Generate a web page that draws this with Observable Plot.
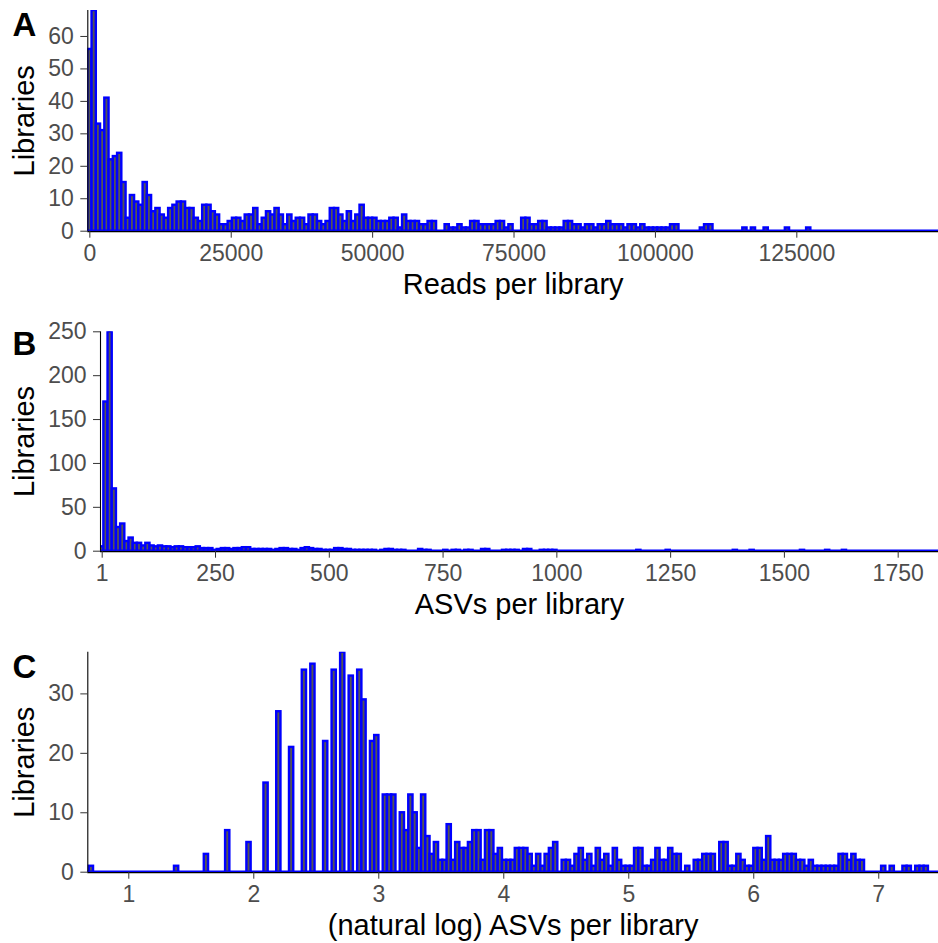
<!DOCTYPE html>
<html>
<head>
<meta charset="utf-8">
<script src="https://cdn.jsdelivr.net/npm/d3@7"></script>
<script src="https://cdn.jsdelivr.net/npm/@observablehq/plot@0.6"></script>
<style>
  body { margin: 0; background: #fff; }
  #fig { width: 938px; }
  #fig svg { display: block; }
  #fig g[aria-label$="tick label"] { fill: #4d4d4d; }
  #fig g[aria-label$="-axis tick"] { stroke: #333333; }
</style>
</head>
<body>
<div id="fig"></div>
<script>
// Histogram bin counts (200 bins per panel), with bin start and width.
const readsCounts = [
  56,68,33,31,41,22,23,24,15,4,
  11,9,8,15,11,6,7,5,4,7,
  8,9,9,7,7,4,3,8,8,6,
  5,2,2,3,4,4,3,5,5,7,
  2,4,6,5,7,5,2,5,3,4,
  4,2,5,5,3,2,3,7,7,5,
  3,6,3,5,8,4,4,4,3,3,
  3,4,4,1,5,3,3,3,2,2,
  3,3,0,0,2,1,1,2,1,1,
  3,3,2,2,2,2,3,3,1,2,
  0,0,4,4,2,2,3,3,1,1,
  1,1,3,3,2,2,1,2,2,1,
  2,2,3,2,2,2,1,2,2,1,
  2,1,1,1,1,1,1,2,2,0,
  0,0,0,0,1,2,2,0,0,0,
  0,0,0,0,1,0,1,0,0,1,
  0,0,0,0,1,0,0,0,0,1,
  0,0,0,0,0,0,0,0,0,0,
  0,0,0,0,0,0,0,0,0,0,
  0,0,0,0,0,0,0,0,0,0
];
const readsBinStart = -360;
const readsBinWidth = 752;
const readsDomain = [-360, 150050];
const readsTicks = [0, 25000, 50000, 75000, 100000, 125000];

const asvCounts = [
  5,170,250,71,27,31,11,15,9,9,
  6,9,6,5,6,5,5,4,5,5,
  4,4,4,5,3,3,3,1,2,3,
  3,2,3,3,4,4,2,2,2,2,
  2,1,2,3,3,2,2,1,3,4,
  3,2,2,1,1,1,3,3,2,2,
  1,1,1,1,1,1,0,1,2,2,
  1,1,1,0,0,0,2,1,1,0,
  0,0,1,0,1,1,0,1,1,0,
  0,2,2,0,0,0,1,1,1,1,
  0,2,2,0,0,1,1,1,1,0,
  0,0,0,0,0,0,0,0,0,0,
  0,0,0,0,0,0,0,0,1,0,
  0,0,0,0,0,1,0,0,0,0,
  0,0,0,0,0,0,0,0,0,0,
  0,1,0,0,0,1,0,0,0,0,
  0,0,0,0,0,0,0,1,0,0,
  0,0,0,1,0,0,0,1,0,0,
  0,0,0,0,0,0,0,0,0,0,
  0,0,0,0,0,0,0,0,0,0
];
const asvBinStart = -4.61;
const asvBinWidth = 9.22;
const asvDomain = [-2.74, 1838.6];
const asvTicks = [1, 250, 500, 750, 1000, 1250, 1500, 1750];

const logCounts = [
  1,0,0,0,0,0,0,0,0,0,
  0,0,0,0,0,0,0,0,0,0,
  1,0,0,0,0,0,0,3,0,0,
  0,0,7,0,0,0,0,5,0,0,
  0,15,0,0,27,0,0,21,0,0,
  34,0,35,0,0,22,0,34,0,37,
  0,33,0,34,29,0,22,23,0,13,
  13,13,0,10,7,13,10,4,13,6,
  3,5,2,2,8,2,5,4,4,5,
  7,7,2,7,7,3,4,2,2,2,
  4,4,4,3,1,3,1,3,4,5,
  0,2,2,1,3,4,2,3,1,4,
  2,3,1,4,2,1,1,1,4,4,
  1,1,2,4,2,2,4,3,3,0,
  1,0,2,2,3,3,3,0,5,5,
  1,1,3,2,1,1,4,4,2,6,
  2,2,2,3,3,3,2,2,1,2,
  1,1,1,1,1,1,3,3,2,3,
  2,2,0,0,0,0,1,0,1,0,
  0,1,1,0,1,1,1,0,0,0
];
const logBinStart = 0.6838;
const logBinWidth = 0.03408;
const logDomain = [0.672, 7.478];
const logTicks = [1, 2, 3, 4, 5, 6, 7];

const FONT = "'Liberation Sans', Arial, Helvetica, sans-serif";

function toBins(counts, start, width) {
  return counts.map((n, i) => ({x1: start + i * width, x2: start + (i + 1) * width, n}));
}

function panel(o) {
  const frameBottom = 230.7;
  const bins = toBins(o.counts, o.binStart, o.binWidth).filter(d => d.n > 0);
  return Plot.plot({
    width: 938,
    height: o.height,
    marginLeft: o.marginLeft,
    marginRight: 0,
    marginTop: o.marginTop,
    marginBottom: o.height - frameBottom,
    style: {fontFamily: FONT, background: "white", overflow: "visible"},
    x: {domain: o.xDomain, label: null},
    y: {domain: o.yDomain, label: null},
    marks: [
      // outline of the empty bins along the baseline
      Plot.ruleY([0], {stroke: "blue", strokeWidth: 1.6, dy: -0.8}),
      Plot.rectY(bins, {x1: "x1", x2: "x2", y: "n", fill: "#555555", stroke: "blue", strokeWidth: 2.4, clip: true}),
      Plot.ruleY([0], {stroke: "black", strokeWidth: 1.1, dy: 0.4}),
      Plot.ruleX([o.xDomain[0]], {stroke: "black", strokeWidth: 1.1}),
      Plot.axisX({ticks: o.xTicks, tickSize: 7, tickPadding: 6, fontSize: 23, tickFormat: o.xFormat, label: null}),
      Plot.axisY({ticks: o.yTicks, tickSize: 7, tickPadding: 7, fontSize: 23, tickFormat: d3.format("d"), label: null}),
      Plot.text([o.xLabel], {frameAnchor: "bottom", textAnchor: "middle", lineAnchor: "middle",
        dy: 54, fontSize: 29, fill: "black"}),
      Plot.text(["Libraries"], {frameAnchor: "left", textAnchor: "middle", lineAnchor: "middle",
        dx: 24.3 - o.marginLeft, rotate: -90, fontSize: 29, fill: "black"}),
      Plot.text([o.letter], {frameAnchor: "top-left", textAnchor: "start", lineAnchor: "top",
        dx: 12 - o.marginLeft, dy: o.letterTop - o.marginTop, fontSize: 33, fontWeight: "bold", fill: "black"})
    ]
  });
}

const fig = document.getElementById("fig");

fig.append(panel({
  letter: "A", letterTop: 12,
  counts: readsCounts, binStart: readsBinStart, binWidth: readsBinWidth,
  xDomain: readsDomain, yDomain: [0, 68],
  xTicks: readsTicks, yTicks: [0, 10, 20, 30, 40, 50, 60],
  xFormat: d3.format("d"), xLabel: "Reads per library",
  height: 320, marginTop: 10, marginLeft: 87.3
}));

fig.append(panel({
  letter: "B", letterTop: 11,
  counts: asvCounts, binStart: asvBinStart, binWidth: asvBinWidth,
  xDomain: asvDomain, yDomain: [0, 250],
  xTicks: asvTicks, yTicks: [0, 50, 100, 150, 200, 250],
  xFormat: d3.format("d"), xLabel: "ASVs per library",
  height: 321, marginTop: 11.3, marginLeft: 100
}));

fig.append(panel({
  letter: "C", letterTop: 13,
  counts: logCounts, binStart: logBinStart, binWidth: logBinWidth,
  xDomain: logDomain, yDomain: [0, 37],
  xTicks: logTicks, yTicks: [0, 10, 20, 30],
  xFormat: d3.format("d"), xLabel: "(natural log) ASVs per library",
  height: 302, marginTop: 10.8, marginLeft: 87.3
}));
</script>
</body>
</html>
